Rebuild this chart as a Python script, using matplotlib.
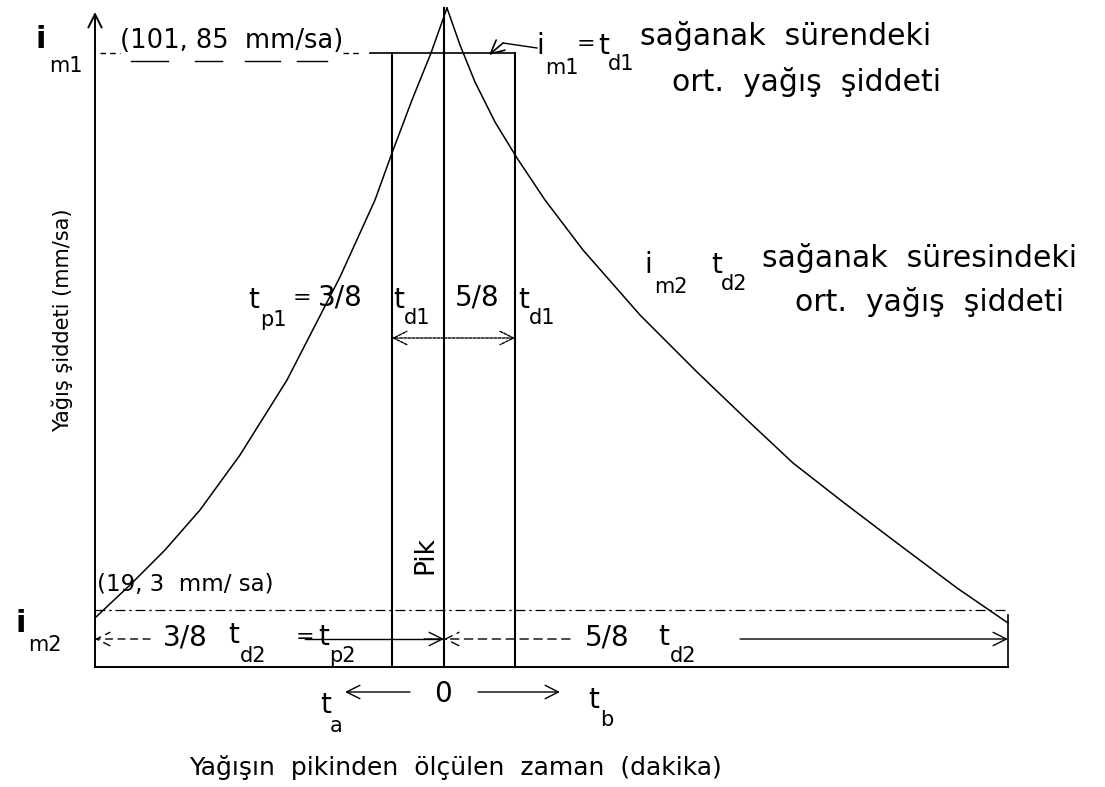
import matplotlib
matplotlib.use("Agg")
import matplotlib.pyplot as plt

# drawing units = pixels of the 1105x787 sheet (y downward)
x_axis, x_tp1, x_peak, x_td1, x_end = 95, 392, 444, 515, 1008
y_top, y_im1, y_im2, y_base = 12, 53, 610, 667
y_dim1, y_dim2, y_time = 338, 639, 692

# hyetograph limbs
left_x = [96, 130, 165, 200, 240, 287, 340, 375, 392, 412, 431, 447]
left_y = [617, 585, 550, 510, 455, 380, 277, 200, 153, 100, 53, 8]
right_x = [447, 460, 475, 495, 517, 545, 583, 640, 697, 745, 793, 843, 893, 957, 1008]
right_y = [8, 45, 82, 122, 158, 200, 250, 315, 372, 418, 463, 502, 540, 588, 623]

FS = 20      # symbols / fractions
SUB = 15     # subscripts
EQ = 16      # equals signs
NOTE = 21.5  # explanatory notes
K = "black"

fig = plt.figure(figsize=(11.05, 7.87), dpi=100)
ax = fig.add_axes([0, 0, 1, 1])
ax.set_xlim(0, 1105)
ax.set_ylim(787, 0)
ax.axis("off")


def txt(x, y, s, size=FS, **kw):
    kw.setdefault("ha", "left")
    kw.setdefault("va", "center")
    ax.text(x, y, s, fontsize=size, color=K, family="DejaVu Sans", **kw)


def arrow(x0, y0, x1, y1, ls="-", lw=1.0):
    ax.annotate("", xy=(x1, y1), xytext=(x0, y0),
                arrowprops=dict(arrowstyle="->", color=K, lw=lw, ls=ls,
                                mutation_scale=24, shrinkA=0, shrinkB=0))


# curves
ax.plot(left_x, left_y, color=K, lw=1.1)
ax.plot(right_x, right_y, color=K, lw=1.1)

# axis and frame lines
arrow(x_axis, y_base, x_axis, y_top, lw=1.4)
ax.plot([x_axis, x_end], [y_base, y_base], color=K, lw=1.4)
ax.plot([x_end, x_end], [y_im2 + 5, y_base], color=K, lw=1.2)
for xv, yv in [(x_tp1, y_im1), (x_peak, 8), (x_td1, y_im1)]:
    ax.plot([xv, xv], [yv, y_base], color=K, lw=1.5)

# i_m1 and i_m2 levels
ax.plot([100, 120], [y_im1, y_im1], color=K, lw=1.0, ls=(0, (4, 3)))
ax.plot([343, 362], [y_im1, y_im1], color=K, lw=1.0, ls=(0, (4, 3)))
ax.plot([370, x_td1], [y_im1, y_im1], color=K, lw=1.2)
ax.plot([x_axis, x_end], [y_im2, y_im2], color=K, lw=0.9, ls=(0, (8, 3, 2, 3)))

# t_d1 dimension
arrow(x_peak, y_dim1, x_tp1, y_dim1, ls=(0, (2, 1)))
arrow(x_peak, y_dim1, x_td1, y_dim1, ls=(0, (2, 1)))

# t_d2 dimension
arrow(150, y_dim2, x_axis, y_dim2, ls=(0, (5, 4)))
ax.plot([305, x_peak - 5], [y_dim2, y_dim2], color=K, lw=1.0)
arrow(x_peak - 20, y_dim2, x_peak, y_dim2)
arrow(570, y_dim2, x_peak, y_dim2, ls=(0, (6, 4)))
arrow(740, y_dim2, x_end, y_dim2)

# time direction
arrow(410, y_time, 345, y_time)
arrow(478, y_time, 560, y_time)

# leader to i_m1 line
ax.plot([537, 503], [48, 43], color=K, lw=1.0)
arrow(503, 43, 489, 55, lw=1.2)

# left labels
txt(36, 40, "i", size=22, weight="bold")
txt(49, 66, "m1", size=SUB)
txt(16, 623, "i", size=22, weight="bold")
txt(28, 645, "m2", size=SUB)

txt(120, 41, "(101, 85  mm/sa)", size=18.5)
for x0, x1 in [(131, 168), (195, 222), (245, 280), (297, 327)]:
    ax.plot([x0, x1], [61, 61], color=K, lw=1.0)
txt(97, 585, "(19, 3  mm/ sa)", size=16.5)

# top right note
txt(536, 46, "i")
txt(545, 68, "m1", size=SUB)
txt(577, 44, "=", size=EQ)
txt(598, 46, "t")
txt(608, 64, "d1", size=SUB)
txt(640, 36, "sağanak  sürendeki", size=NOTE)
txt(672, 82, "ort.  yağış  şiddeti", size=NOTE)

# middle right note
txt(644, 265, "i")
txt(654, 287, "m2", size=SUB)
txt(711, 265, "t")
txt(721, 284, "d2", size=SUB)
txt(762, 258, "sağanak  süresindeki", size=NOTE)
txt(795, 302, "ort.  yağış  şiddeti", size=NOTE)

# t_p1 label
txt(248, 300, "t")
txt(260, 320, "p1", size=SUB)
txt(293, 298, "=", size=EQ)
txt(318, 297, "3/8")
txt(393, 300, "t")
txt(404, 318, "d1", size=SUB)
txt(455, 297, "5/8")
txt(518, 300, "t")
txt(529, 318, "d1", size=SUB)

txt(425, 555, "Pik", size=19, rotation=90, ha="center")

# t_d2 labels
txt(163, 637, "3/8")
txt(228, 635, "t")
txt(240, 656, "d2", size=SUB)
txt(296, 637, "=", size=EQ)
txt(318, 637, "t")
txt(329, 656, "p2", size=SUB)
txt(585, 637, "5/8")
txt(658, 637, "t")
txt(670, 656, "d2", size=SUB)

# time axis labels
txt(320, 705, "t")
txt(330, 726, "a", size=SUB)
txt(443, 694, "0", ha="center")
txt(588, 700, "t")
txt(600, 720, "b", size=SUB)

txt(455, 768, "Yağışın  pikinden  ölçülen  zaman  (dakika)", size=18, ha="center")
txt(62, 320, "Yağış şiddeti (mm/sa)", size=15, rotation=90, ha="center")

fig.savefig("out.png", dpi=100)
